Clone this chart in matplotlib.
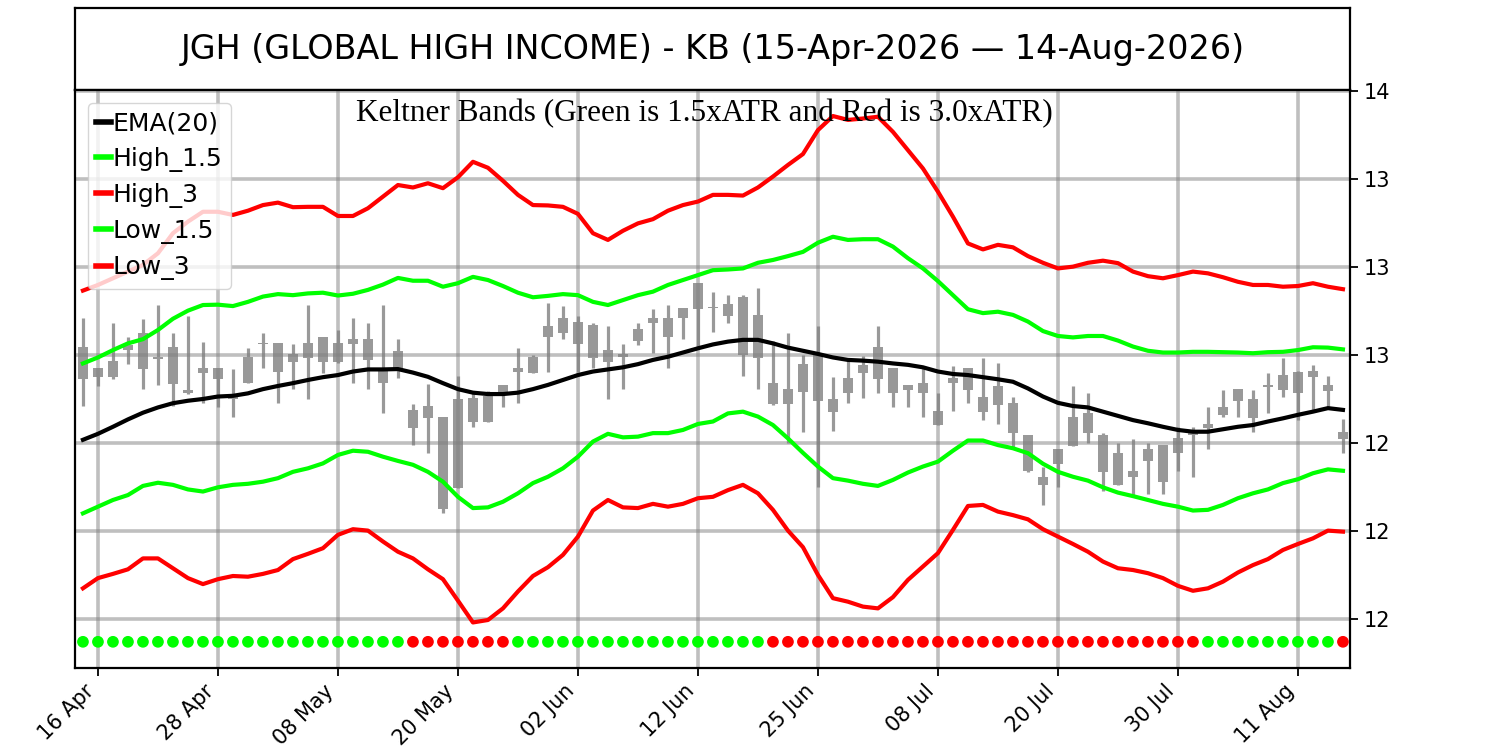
import matplotlib
matplotlib.use("Agg")
import matplotlib.pyplot as plt
from matplotlib.ticker import FixedLocator, FormatStrFormatter
import pandas as pd

# trading days (US market holidays removed)
days = pd.bdate_range("2026-04-15", "2026-08-14")
days = days.drop(pd.to_datetime(["2026-05-25", "2026-06-19", "2026-07-03"]))

opens = [12.774, 12.712, 12.734, 12.778, 12.812, 12.742, 12.772, 12.651, 12.712, 12.712,
         12.632, 12.743, 12.785, 12.785, 12.753, 12.785, 12.800, 12.785, 12.795, 12.795,
         12.712, 12.762, 12.594, 12.605, 12.575, 12.624, 12.627, 12.634, 12.665, 12.712,
         12.745, 12.832, 12.854, 12.845, 12.835, 12.764, 12.753, 12.823, 12.854, 12.854,
         12.883, 12.954, 12.887, 12.895, 12.914, 12.864, 12.671, 12.653, 12.724, 12.750,
         12.624, 12.684, 12.722, 12.772, 12.712, 12.665, 12.671, 12.592, 12.684, 12.712,
         12.632, 12.662, 12.613, 12.523, 12.403, 12.482, 12.573, 12.586, 12.523, 12.472,
         12.421, 12.482, 12.494, 12.513, 12.535, 12.554, 12.603, 12.653, 12.624, 12.665,
         12.693, 12.703, 12.705, 12.665, 12.532]
highs = [12.854, 12.713, 12.840, 12.800, 12.851, 12.892, 12.812, 12.861, 12.787, 12.713,
         12.709, 12.769, 12.812, 12.785, 12.780, 12.892, 12.800, 12.821, 12.854, 12.840,
         12.892, 12.795, 12.611, 12.668, 12.575, 12.690, 12.641, 12.649, 12.665, 12.769,
         12.750, 12.899, 12.889, 12.861, 12.840, 12.832, 12.780, 12.840, 12.880, 12.892,
         12.883, 12.955, 12.930, 12.920, 12.920, 12.939, 12.791, 12.812, 12.750, 12.832,
         12.687, 12.741, 12.747, 12.832, 12.712, 12.665, 12.719, 12.643, 12.719, 12.712,
         12.741, 12.728, 12.630, 12.523, 12.433, 12.483, 12.662, 12.641, 12.529, 12.499,
         12.511, 12.499, 12.494, 12.546, 12.546, 12.601, 12.651, 12.653, 12.651, 12.700,
         12.741, 12.705, 12.722, 12.690, 12.567]
lows = [12.605, 12.662, 12.681, 12.724, 12.653, 12.665, 12.605, 12.640, 12.613, 12.603,
        12.573, 12.670, 12.712, 12.613, 12.653, 12.624, 12.698, 12.728, 12.671, 12.653,
        12.584, 12.684, 12.494, 12.472, 12.302, 12.371, 12.545, 12.561, 12.603, 12.613,
        12.700, 12.703, 12.795, 12.703, 12.712, 12.624, 12.653, 12.778, 12.757, 12.712,
        12.795, 12.767, 12.816, 12.840, 12.690, 12.653, 12.608, 12.501, 12.532, 12.374,
        12.535, 12.613, 12.627, 12.643, 12.603, 12.603, 12.573, 12.551, 12.592, 12.613,
        12.565, 12.554, 12.482, 12.418, 12.324, 12.374, 12.491, 12.501, 12.364, 12.381,
        12.346, 12.355, 12.355, 12.421, 12.403, 12.482, 12.573, 12.573, 12.532, 12.584,
        12.632, 12.565, 12.594, 12.603, 12.472]
closes = [12.681, 12.688, 12.687, 12.764, 12.709, 12.740, 12.668, 12.643, 12.700, 12.681,
          12.624, 12.670, 12.781, 12.701, 12.731, 12.741, 12.731, 12.731, 12.781, 12.736,
          12.670, 12.712, 12.542, 12.570, 12.312, 12.371, 12.561, 12.561, 12.641, 12.703,
          12.700, 12.800, 12.812, 12.781, 12.741, 12.731, 12.743, 12.791, 12.842, 12.800,
          12.854, 12.880, 12.883, 12.861, 12.750, 12.741, 12.611, 12.611, 12.646, 12.620,
          12.589, 12.641, 12.700, 12.681, 12.641, 12.651, 12.641, 12.551, 12.671, 12.651,
          12.589, 12.608, 12.529, 12.421, 12.381, 12.440, 12.491, 12.529, 12.418, 12.381,
          12.403, 12.450, 12.390, 12.471, 12.523, 12.542, 12.580, 12.620, 12.570, 12.660,
          12.651, 12.641, 12.688, 12.649, 12.511]

ema20 = [12.509, 12.526, 12.546, 12.567, 12.586, 12.601, 12.613, 12.620, 12.625, 12.632,
         12.634, 12.641, 12.653, 12.662, 12.670, 12.679, 12.687, 12.693, 12.703, 12.709,
         12.709, 12.710, 12.700, 12.688, 12.670, 12.653, 12.643, 12.639, 12.639, 12.643,
         12.653, 12.665, 12.679, 12.693, 12.703, 12.709, 12.715, 12.724, 12.736, 12.745,
         12.757, 12.769, 12.780, 12.788, 12.793, 12.793, 12.783, 12.771, 12.762, 12.753,
         12.743, 12.736, 12.734, 12.731, 12.726, 12.722, 12.715, 12.703, 12.696, 12.693,
         12.687, 12.681, 12.674, 12.655, 12.632, 12.614, 12.605, 12.601, 12.589, 12.577,
         12.565, 12.556, 12.546, 12.537, 12.532, 12.532, 12.539, 12.546, 12.551, 12.561,
         12.570, 12.580, 12.589, 12.599, 12.594]
high_15 = [12.726, 12.743, 12.764, 12.783, 12.795, 12.821, 12.853, 12.876, 12.892, 12.893,
           12.889, 12.901, 12.916, 12.923, 12.920, 12.925, 12.927, 12.919, 12.924, 12.935,
           12.950, 12.969, 12.961, 12.961, 12.944, 12.954, 12.972, 12.963, 12.946, 12.927,
           12.914, 12.918, 12.923, 12.920, 12.901, 12.892, 12.906, 12.920, 12.930, 12.949,
           12.963, 12.977, 12.991, 12.993, 12.996, 13.012, 13.020, 13.031, 13.043, 13.069,
           13.086, 13.077, 13.079, 13.079, 13.058, 13.025, 12.996, 12.960, 12.920, 12.880,
           12.869, 12.873, 12.864, 12.845, 12.818, 12.804, 12.800, 12.804, 12.804, 12.791,
           12.774, 12.762, 12.757, 12.757, 12.759, 12.759, 12.758, 12.757, 12.755, 12.758,
           12.759, 12.764, 12.772, 12.771, 12.766]
high_3 = [12.933, 12.949, 12.968, 12.987, 13.006, 13.039, 13.096, 13.129, 13.157, 13.157,
          13.148, 13.160, 13.176, 13.183, 13.170, 13.171, 13.171, 13.145, 13.145, 13.167,
          13.200, 13.233, 13.226, 13.238, 13.224, 13.255, 13.299, 13.282, 13.245, 13.205,
          13.176, 13.175, 13.171, 13.151, 13.096, 13.077, 13.103, 13.124, 13.136, 13.160,
          13.176, 13.186, 13.205, 13.205, 13.203, 13.226, 13.257, 13.290, 13.321, 13.389,
          13.429, 13.418, 13.422, 13.427, 13.384, 13.332, 13.280, 13.214, 13.143, 13.067,
          13.050, 13.063, 13.056, 13.031, 13.012, 12.996, 13.001, 13.012, 13.018, 13.011,
          12.987, 12.974, 12.968, 12.977, 12.987, 12.982, 12.971, 12.958, 12.949, 12.949,
          12.944, 12.946, 12.954, 12.944, 12.937]
low_15 = [12.300, 12.319, 12.338, 12.352, 12.378, 12.387, 12.381, 12.368, 12.362, 12.374,
          12.381, 12.384, 12.390, 12.400, 12.418, 12.428, 12.442, 12.466, 12.478, 12.475,
          12.461, 12.449, 12.438, 12.418, 12.390, 12.347, 12.315, 12.317, 12.333, 12.357,
          12.386, 12.404, 12.428, 12.461, 12.504, 12.526, 12.516, 12.518, 12.528, 12.528,
          12.537, 12.554, 12.561, 12.584, 12.589, 12.575, 12.551, 12.513, 12.472, 12.433,
          12.400, 12.393, 12.384, 12.378, 12.395, 12.416, 12.433, 12.447, 12.478, 12.507,
          12.507, 12.494, 12.485, 12.471, 12.441, 12.418, 12.404, 12.393, 12.374, 12.359,
          12.349, 12.338, 12.327, 12.319, 12.308, 12.310, 12.324, 12.343, 12.357, 12.368,
          12.386, 12.397, 12.414, 12.425, 12.421]
low_3 = [12.087, 12.116, 12.128, 12.141, 12.172, 12.172, 12.144, 12.116, 12.099, 12.113,
         12.122, 12.120, 12.128, 12.139, 12.170, 12.185, 12.201, 12.239, 12.255, 12.251,
         12.220, 12.191, 12.172, 12.141, 12.113, 12.052, 11.990, 11.997, 12.030, 12.078,
         12.122, 12.147, 12.182, 12.234, 12.308, 12.338, 12.317, 12.315, 12.327, 12.319,
         12.327, 12.343, 12.347, 12.366, 12.381, 12.357, 12.310, 12.251, 12.204, 12.125,
         12.059, 12.049, 12.035, 12.030, 12.062, 12.111, 12.149, 12.187, 12.253, 12.321,
         12.324, 12.305, 12.295, 12.283, 12.255, 12.234, 12.213, 12.191, 12.163, 12.144,
         12.139, 12.130, 12.116, 12.094, 12.080, 12.087, 12.106, 12.132, 12.153, 12.170,
         12.196, 12.213, 12.229, 12.251, 12.248]
# G = green dot, R = red dot
signal = ("GGGGGGGGGGGGGGGGGGGGGG" "RRRRRRR" "GGGGGGGGGGGGGGGGG"
          "RRRRRRRRRRRRRRRRRRRRRRRRRRRRR" "GGGGGGGGG" "R")
signal_level = 11.935

x = list(range(len(days)))

fig = plt.figure(figsize=(15, 7.5), dpi=100)

# title box
tax = fig.add_axes([0.05, 0.88, 0.85, 0.109])
tax.set_xticks([])
tax.set_yticks([])
for s in tax.spines.values():
    s.set_linewidth(1.6)
tax.text(0.5, 0.5, "JGH (GLOBAL HIGH INCOME) - KB (15-Apr-2026 \u2014 14-Aug-2026)",
         ha="center", va="center", fontsize=24, transform=tax.transAxes)

ax = fig.add_axes([0.05, 0.11, 0.85, 0.77])
ax.set_axisbelow("line")
ax.grid(True, color="gray", alpha=0.5, linewidth=2.6)

# candles
ax.vlines(x, lows, highs, color="#999999", linewidth=2.3, zorder=1)
bot = [min(o, c) for o, c in zip(opens, closes)]
hgt = [max(abs(c - o), 0.003) for o, c in zip(opens, closes)]
ax.bar(x, hgt, bottom=bot, width=0.65, color="#999999", zorder=1)

ax.plot(x, ema20, color="black", lw=3, label="EMA(20)", zorder=3)
ax.plot(x, high_15, color="#00ff00", lw=3, label="High_1.5", zorder=3)
ax.plot(x, high_3, color="#ff0000", lw=3, label="High_3", zorder=3)
ax.plot(x, low_15, color="#00ff00", lw=3, label="Low_1.5", zorder=3)
ax.plot(x, low_3, color="#ff0000", lw=3, label="Low_3", zorder=3)

cols = ["#00ff00" if s == "G" else "#ff0000" for s in signal]
ax.scatter(x, [signal_level] * len(x), c=cols, s=55, zorder=3)

ax.text(0.494, 0.985, "Keltner Bands (Green is 1.5xATR and Red is 3.0xATR)",
        transform=ax.transAxes, ha="center", va="top", fontsize=22.5,
        family="Liberation Serif", zorder=5)

leg = ax.legend(loc="upper left", fontsize=18, handlelength=0.6, handletextpad=0.05,
                labelspacing=0.45, borderpad=0.35)
for h in leg.get_lines():
    h.set_linewidth(4)

ax.set_xlim(-0.53, 84.47)
ax.set_ylim(11.862, 13.503)
ax.yaxis.tick_right()
ax.yaxis.set_major_locator(FixedLocator([12.0, 12.25, 12.5, 12.75, 13.0, 13.25, 13.5]))
ax.yaxis.set_major_formatter(FormatStrFormatter("%.0f"))
tick_pos = x[1::8]
ax.set_xticks(tick_pos)
ax.set_xticklabels([days[i].strftime("%d %b") for i in tick_pos], rotation=45, ha="right")
ax.tick_params(labelsize=15, length=6, width=1.3)
for s in ax.spines.values():
    s.set_linewidth(1.6)

fig.savefig("out.png", dpi=100)
